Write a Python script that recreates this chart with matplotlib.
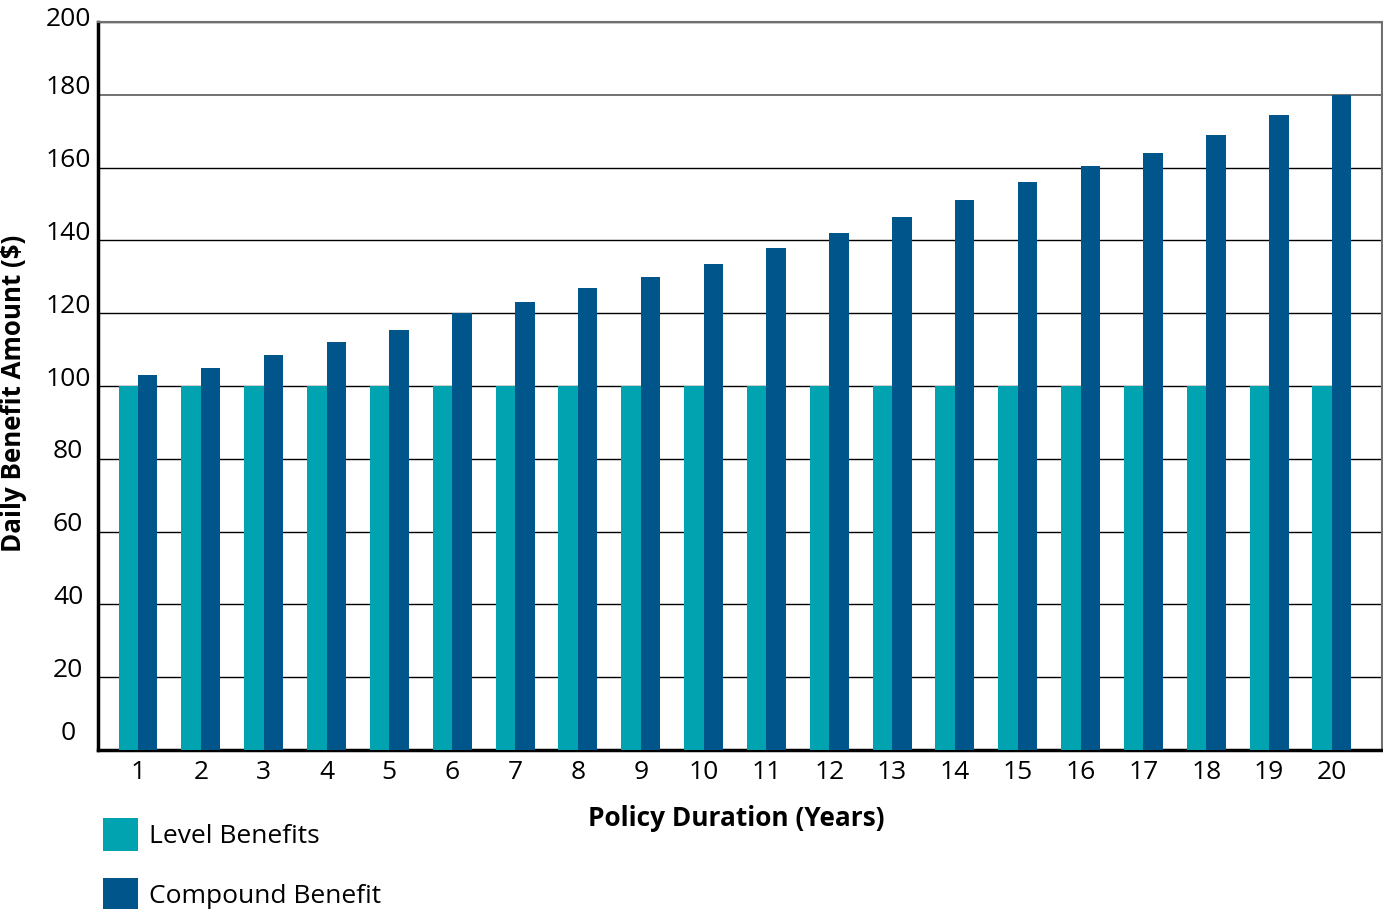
import matplotlib
matplotlib.use("Agg")
import matplotlib.pyplot as plt
import numpy as np
from matplotlib.transforms import ScaledTranslation

plt.rcParams['font.family'] = ['Open Sans', 'DejaVu Sans']

years = list(range(1, 21))
year_labels = [str(y) for y in years]
level_benefits = [100] * 20
compound_benefit = [103, 105, 108.5, 112, 115.5, 120, 123, 127, 130, 133.5,
                    138, 142, 146.5, 151, 156, 160.5, 164, 169, 174.5, 180]
y_ticks = [0, 20, 40, 60, 80, 100, 120, 140, 160, 180, 200]

teal = '#00A3AF'
navy = '#00568A'

fig = plt.figure(figsize=(13.83, 9.09), dpi=100)
ax = fig.add_axes([98/1383, 1-750/909, (1382-98)/1383, (750-22)/909])

x = np.array(years, dtype=float)
w = 0.31
ax.bar(x - w/2, level_benefits, width=w, color=teal, label='Level Benefits', zorder=3)
ax.bar(x + w/2, compound_benefit, width=w, color=navy, label='Compound Benefit', zorder=3)

ax.set_xlim(0.3635, 20.796)
ax.set_ylim(0, 200)
ax.set_xticks(x)
ax.set_xticklabels(year_labels, fontsize=19)
ax.set_yticks(y_ticks)
ax.set_yticklabels([str(v) for v in y_ticks], fontsize=19, ha='center')
ax.tick_params(axis='both', length=0)
ax.tick_params(axis='y', pad=21.6)
ax.tick_params(axis='x', pad=7)
offsets = {0: 20, 200: 6}
for v, lab in zip(y_ticks, ax.get_yticklabels()):
    dy = offsets.get(v, 10) * 0.72
    lab.set_transform(lab.get_transform() + ScaledTranslation(0, dy/72, fig.dpi_scale_trans))

ax.yaxis.grid(True, color='black', linewidth=1.0, zorder=0)
ax.set_axisbelow(True)
gl = ax.get_ygridlines()
gl[9].set_color('#666666')
gl[9].set_linewidth(1.3)

for s in ['left', 'bottom']:
    ax.spines[s].set_color('black')
    ax.spines[s].set_linewidth(2.5)
for s in ['top', 'right']:
    ax.spines[s].set_color('#707070')
    ax.spines[s].set_linewidth(1.5)

ax.set_ylabel('Daily Benefit Amount ($)', fontsize=18.6, fontweight='bold')
ax.yaxis.set_label_coords(-71/1284, 0.49)
fig.text(736/1383, 1-819/909, 'Policy Duration (Years)', fontsize=18.9,
         fontweight='bold', ha='center', va='center')

ax.legend(loc='upper left', bbox_to_anchor=(103/1383, 1-818/909),
          bbox_transform=fig.transFigure, frameon=False, fontsize=19,
          handlelength=1.33, handleheight=1.57, handletextpad=0.4,
          labelspacing=1.0, borderpad=0, borderaxespad=0)

fig.savefig('out.png', dpi=100)
